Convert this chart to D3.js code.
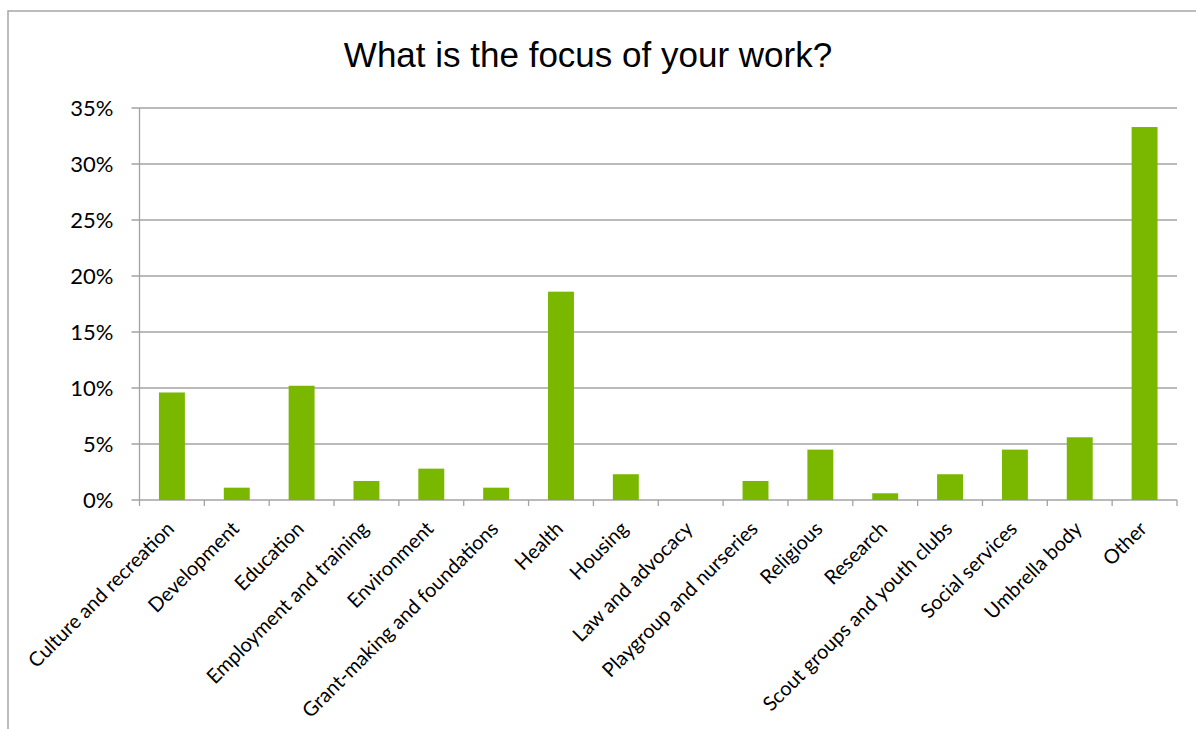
<!DOCTYPE html>
<html>
<head>
<meta charset="utf-8">
<script src="https://cdn.jsdelivr.net/npm/d3@7"></script>
<style>
  html, body { margin: 0; padding: 0; background: #fff; }
  svg { display: block; }
</style>
</head>
<body>
<svg id="chart" width="1196" height="729"></svg>
<script>
const title = "What is the focus of your work?";
const categories = [
  "Culture and recreation", "Development", "Education", "Employment and training",
  "Environment", "Grant-making and foundations", "Health", "Housing",
  "Law and advocacy", "Playgroup and nurseries", "Religious", "Research",
  "Scout groups and youth clubs", "Social services", "Umbrella body", "Other"
];
const values = [9.6, 1.1, 10.2, 1.7, 2.8, 1.1, 18.6, 2.3, 0, 1.7, 4.5, 0.6, 2.3, 4.5, 5.6, 33.3];
const yTicks = [0, 5, 10, 15, 20, 25, 30, 35];

const svg = d3.select("#chart");
const W = 1196, H = 729;
const plot = { left: 139.5, right: 1177, top: 108, bottom: 500 };
const gridColor = "#a3a3a3";
const barColor = "#7ab800";

// Outer chart frame (top and left edges visible)
svg.append("path")
  .attr("d", `M8,${H} L8,11 L${W},11`)
  .attr("fill", "none")
  .attr("stroke", "#a6a6a6")
  .attr("stroke-width", 1.5);

// Title
svg.append("text")
  .attr("x", 588)
  .attr("y", 66.5)
  .attr("text-anchor", "middle")
  .attr("font-family", "Liberation Sans, Arial, sans-serif")
  .attr("font-size", 35)
  .attr("fill", "#000")
  .text(title);

const x = d3.scaleBand().domain(categories).range([plot.left, plot.right]).paddingInner(0).paddingOuter(0);
const y = d3.scaleLinear().domain([0, 35]).range([plot.bottom, plot.top]);

// Gridlines
svg.append("g")
  .selectAll("line")
  .data(yTicks)
  .join("line")
  .attr("x1", plot.left - 8)
  .attr("x2", plot.right)
  .attr("y1", d => y(d))
  .attr("y2", d => y(d))
  .attr("stroke", gridColor)
  .attr("stroke-width", 1.3);

// Y axis line
svg.append("line")
  .attr("x1", plot.left).attr("x2", plot.left)
  .attr("y1", plot.top).attr("y2", plot.bottom + 6)
  .attr("stroke", gridColor).attr("stroke-width", 1.3);

// X-axis category tick marks (band boundaries)
const bounds = categories.map(c => x(c)).concat([x(categories[categories.length - 1]) + x.bandwidth()]);
svg.append("g")
  .selectAll("line")
  .data(bounds.slice(1))
  .join("line")
  .attr("x1", d => d).attr("x2", d => d)
  .attr("y1", plot.bottom).attr("y2", plot.bottom + 6)
  .attr("stroke", gridColor).attr("stroke-width", 1.3);

// Y tick labels
svg.append("g")
  .selectAll("text")
  .data(yTicks)
  .join("text")
  .attr("x", plot.left - 26)
  .attr("y", d => y(d))
  .attr("dy", "0.36em")
  .attr("text-anchor", "end")
  .attr("font-family", "Lato, sans-serif")
  .attr("font-size", 22)
  .attr("fill", "#000")
  .text(d => d + "%");

// Bars
const barW = x.bandwidth() * 0.4;
svg.append("g")
  .selectAll("rect")
  .data(values)
  .join("rect")
  .attr("x", (d, i) => x(categories[i]) + (x.bandwidth() - barW) / 2)
  .attr("y", d => y(d))
  .attr("width", barW)
  .attr("height", d => y(0) - y(d))
  .attr("fill", barColor);

// Category labels rotated -45
svg.append("g")
  .selectAll("text")
  .data(categories)
  .join("text")
  .attr("transform", d => `translate(${x(d) + x.bandwidth() / 2 + 3.5},${plot.bottom + 30}) rotate(-45)`)
  .attr("text-anchor", "end")
  .attr("font-family", "Lato, sans-serif")
  .attr("font-size", 20)
  .attr("fill", "#000")
  .text(d => d);
</script>
</body>
</html>
